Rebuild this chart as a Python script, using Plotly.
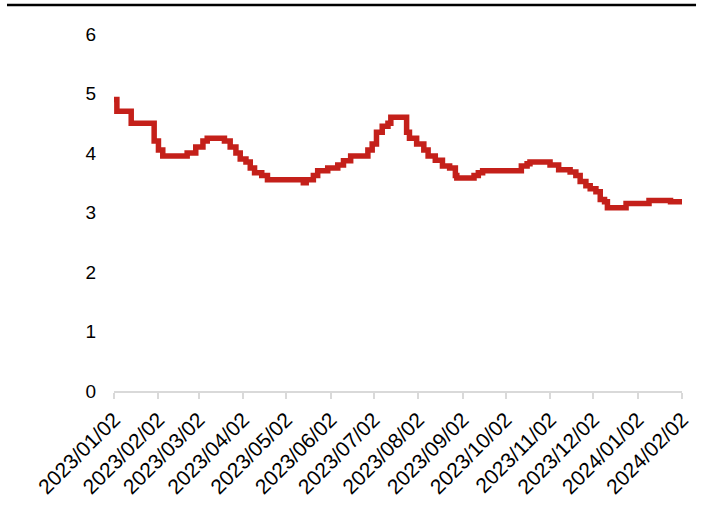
import plotly.graph_objects as go

dates = ["2023-01-02", "2023-01-04", "2023-01-13", "2023-01-14", "2023-01-29", "2023-01-30",
         "2023-02-02", "2023-02-05", "2023-02-20", "2023-02-22", "2023-02-28", "2023-03-05",
         "2023-03-08", "2023-03-18", "2023-03-20", "2023-03-24", "2023-03-28", "2023-03-31",
         "2023-04-04", "2023-04-07", "2023-04-10", "2023-04-15", "2023-04-19", "2023-05-03",
         "2023-05-14", "2023-05-16", "2023-05-21", "2023-05-24", "2023-05-31", "2023-06-07",
         "2023-06-11", "2023-06-16", "2023-06-27", "2023-06-28", "2023-07-01", "2023-07-04",
         "2023-07-08", "2023-07-12", "2023-07-14", "2023-07-23", "2023-07-25", "2023-07-27",
         "2023-08-01", "2023-08-06", "2023-08-09", "2023-08-14", "2023-08-19", "2023-08-24",
         "2023-08-28", "2023-08-29", "2023-09-07", "2023-09-10", "2023-09-13", "2023-09-16",
         "2023-10-12", "2023-10-13", "2023-10-17", "2023-10-19", "2023-10-30", "2023-11-02",
         "2023-11-08", "2023-11-16", "2023-11-20", "2023-11-23", "2023-11-27", "2023-11-30",
         "2023-12-04", "2023-12-07", "2023-12-10", "2023-12-12", "2023-12-24", "2023-12-25",
         "2024-01-07", "2024-01-10", "2024-01-23", "2024-01-25", "2024-02-02"]
values = [4.9, 4.7, 4.7, 4.5, 4.5, 4.2,
          4.05, 3.95, 3.95, 4.0, 4.1, 4.2,
          4.25, 4.25, 4.2, 4.1, 4.0, 3.9,
          3.85, 3.75, 3.67, 3.62, 3.55, 3.55,
          3.5, 3.55, 3.62, 3.7, 3.75, 3.8,
          3.87, 3.95, 3.95, 4.05, 4.15, 4.35,
          4.45, 4.5, 4.6, 4.6, 4.35, 4.25,
          4.15, 4.05, 3.95, 3.88, 3.78, 3.75,
          3.62, 3.58, 3.58, 3.62, 3.67, 3.7,
          3.7, 3.78, 3.82, 3.85, 3.85, 3.8,
          3.72, 3.68, 3.62, 3.52, 3.45, 3.4,
          3.35, 3.22, 3.18, 3.08, 3.08, 3.15,
          3.15, 3.2, 3.2, 3.18, 3.18]

tick_vals = ["2023-01-02", "2023-02-02", "2023-03-02", "2023-04-02", "2023-05-02", "2023-06-02",
             "2023-07-02", "2023-08-02", "2023-09-02", "2023-10-02", "2023-11-02", "2023-12-02",
             "2024-01-02", "2024-02-02"]
tick_text = [d.replace("-", "/") for d in tick_vals]

fig = go.Figure()
fig.add_trace(go.Scatter(x=dates, y=values, mode="lines",
                         line=dict(color="#C4201A", width=5.5, shape="hv"),
                         showlegend=False))

fig.update_layout(
    width=703, height=511,
    margin=dict(l=114, r=21, t=34, b=120),
    paper_bgcolor="white", plot_bgcolor="white",
    font=dict(family="Liberation Sans, Arial, sans-serif", size=19, color="black"),
    xaxis=dict(range=["2023-01-02", "2024-02-02"], tickmode="array",
               tickvals=tick_vals, ticktext=tick_text, tickangle=-45,
               tickfont=dict(size=21),
               showgrid=False, showline=True, linecolor="#d9d9d9", linewidth=2,
               ticks="outside", ticklen=6, tickcolor="#d9d9d9", tickwidth=2,
               zeroline=False),
    yaxis=dict(range=[0, 6], tickvals=[0, 1, 2, 3, 4, 5, 6], showgrid=False,
               showline=False, zeroline=False, ticks="", ticklabelstandoff=17),
    shapes=[dict(type="line", xref="paper", yref="paper",
                 x0=-0.1884, x1=1.0247, y0=1.0812, y1=1.0812,
                 line=dict(color="black", width=2.5))],
)

fig.write_html("out.html")
